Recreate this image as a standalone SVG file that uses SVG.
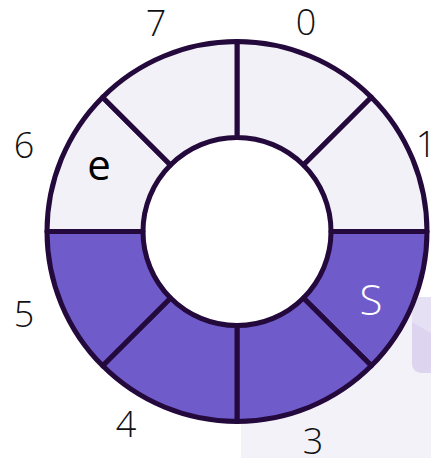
<svg xmlns="http://www.w3.org/2000/svg" width="431" height="458" viewBox="0 0 431 458">
<style>
.seg{stroke:#240a3c;stroke-width:5;stroke-linejoin:round}
.light{fill:#f2f1f7}
.dark{fill:#6f5bca}
.lbl{font-family:"Open Sans","Liberation Sans",sans-serif;font-size:36px;font-weight:300;fill:#111;text-anchor:middle}
</style>
<defs>
<clipPath id="cubeclip"><rect x="412" y="297" width="40" height="76" rx="9"/></clipPath>
</defs>
<rect width="431" height="458" fill="#ffffff"/>
<rect x="241" y="300" width="190" height="158" fill="#f3f2f8"/>
<g id="cube" clip-path="url(#cubeclip)">
<rect x="412" y="297" width="40" height="76" fill="#ddd5f0"/>
<polygon points="412,297 431,297 431,333 412,322" fill="#e6e0f5"/>
</g>
<g id="ring">
<circle id="hole" cx="237" cy="231.5" r="94" fill="#ffffff"/>
<g id="seg0"><path class="seg light" d="M237,41.5 A190,190 0 0 1 371.35,97.15 L303.47,165.03 A94,94 0 0 0 237,137.5 Z"/></g>
<g id="seg1"><path class="seg light" d="M371.35,97.15 A190,190 0 0 1 427,231.5 L331,231.5 A94,94 0 0 0 303.47,165.03 Z"/></g>
<g id="seg2"><path class="seg dark" d="M427,231.5 A190,190 0 0 1 371.35,365.85 L303.47,297.97 A94,94 0 0 0 331,231.5 Z"/></g>
<g id="seg3"><path class="seg dark" d="M371.35,365.85 A190,190 0 0 1 237,421.5 L237,325.5 A94,94 0 0 0 303.47,297.97 Z"/></g>
<g id="seg4"><path class="seg dark" d="M237,421.5 A190,190 0 0 1 102.65,365.85 L170.53,297.97 A94,94 0 0 0 237,325.5 Z"/></g>
<g id="seg5"><path class="seg dark" d="M102.65,365.85 A190,190 0 0 1 47,231.5 L143,231.5 A94,94 0 0 0 170.53,297.97 Z"/></g>
<g id="seg6"><path class="seg light" d="M47,231.5 A190,190 0 0 1 102.65,97.15 L170.53,165.03 A94,94 0 0 0 143,231.5 Z"/></g>
<g id="seg7"><path class="seg light" d="M102.65,97.15 A190,190 0 0 1 237,41.5 L237,137.5 A94,94 0 0 0 170.53,165.03 Z"/></g>
</g>
<g id="labels">
<text class="lbl" x="306" y="35">0</text>
<text class="lbl" x="426" y="157">1</text>
<text class="lbl" x="313" y="454">3</text>
<text class="lbl" x="126" y="437">4</text>
<text class="lbl" x="24" y="327">5</text>
<text class="lbl" x="24" y="158">6</text>
<text class="lbl" x="156" y="36">7</text>
<text x="99" y="180" font-family="Open Sans, Liberation Sans, sans-serif" font-size="42" font-weight="400" fill="#000" text-anchor="middle">e</text>
<text x="371" y="315" font-family="Open Sans, Liberation Sans, sans-serif" font-size="42" font-weight="300" fill="#ffffff" text-anchor="middle">S</text>
</g>
</svg>
